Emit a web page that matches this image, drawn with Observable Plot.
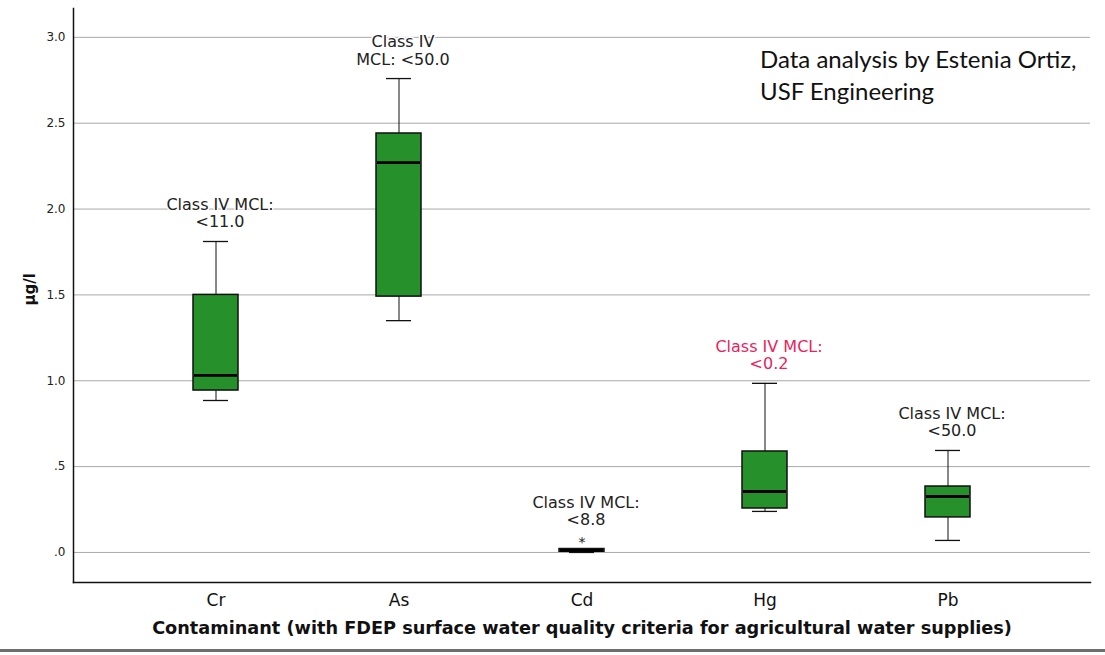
<!DOCTYPE html>
<html>
<head>
<meta charset="utf-8">
<script src="https://cdn.jsdelivr.net/npm/d3@7"></script>
<script src="https://cdn.jsdelivr.net/npm/@observablehq/plot@0.6"></script>
<style>
  html, body { margin: 0; padding: 0; background: #fff; }
  #wrap { position: relative; width: 1105px; border-bottom: 3px solid #6f6f6f; }
  #note { position: absolute; left: 760px; top: 43px; font-family: Lato, "Open Sans", sans-serif;
          font-size: 24px; line-height: 32px; color: #111; }
  svg { display: block; }
</style>
</head>
<body>
<div id="wrap">
  <div id="note">Data analysis by Estenia Ortiz,<br>USF Engineering</div>
</div>
<script>
// Contaminants (x categories)
const contaminants = ["Cr", "As", "Cd", "Hg", "Pb"];
// Box-plot statistics (µg/l)
const whiskerLow  = [0.885, 1.35, 0.000, 0.239, 0.070];
const q1          = [0.943, 1.49, 0.004, 0.256, 0.204];
const median      = [1.031, 2.27, 0.012, 0.355, 0.326];
const q3          = [1.500, 2.44, 0.020, 0.588, 0.384];
const whiskerHigh = [1.811, 2.76, 0.020, 0.985, 0.594];
// Outliers (extreme, drawn as *)
const outlierCat = ["Cd"];
const outlierVal = [0.078];
// FDEP Class IV MCL annotations
const mclLabels = ["Class IV MCL:\n<11.0", "Class IV\nMCL: <50.0", "Class IV MCL:\n<8.8", "Class IV MCL:\n<0.2", "Class IV MCL:\n<50.0"];
const mclColors = ["#222", "#222", "#222", "#e8245c", "#222"];
// Y ticks
const yTicks = [0, 0.5, 1.0, 1.5, 2.0, 2.5, 3.0];

const boxes = contaminants.map((c, i) => ({
  c, lo: whiskerLow[i], q1: q1[i], med: median[i], q3: q3[i], hi: whiskerHigh[i]
}));
const outliers = outlierCat.map((c, i) => ({c, v: outlierVal[i]}));
const labels = contaminants.map((c, i) => {
  const o = outliers.find(d => d.c === c);
  return {c, y: Math.max(whiskerHigh[i], o ? o.v : -Infinity), text: mclLabels[i], color: mclColors[i]};
});

const fmt = d => d < 1 ? "." + String(Math.round(d * 10)) : d.toFixed(1);
const green = "#26902a";
const boxInset = 69, capInset = 79;

const plot = Plot.plot({
  width: 1105,
  height: 649,
  marginLeft: 73,
  marginRight: 15,
  marginTop: 8,
  marginBottom: 67,
  style: {fontFamily: "DejaVu Sans, sans-serif", background: "#fff"},
  x: {type: "band", domain: contaminants, paddingInner: 0, paddingOuter: 0.267, axis: null},
  y: {domain: [-0.175, 3.168], axis: null},
  marks: [
    Plot.gridY(yTicks, {stroke: "#a9a9a9", strokeOpacity: 1, strokeWidth: 1}),
    Plot.axisY(yTicks, {tickSize: 0, tickPadding: 8, tickFormat: fmt, fontSize: 12, fill: "#222", label: null}),
    Plot.axisX({tickSize: 0, tickPadding: 11, fontSize: 17, fill: "#111", label: null}),
    Plot.text(["µg/l"], {frameAnchor: "left", rotate: -90, dx: -43, dy: 10, fontSize: 15, fontWeight: "bold", fill: "#111"}),
    Plot.text(["Contaminant (with FDEP surface water quality criteria for agricultural water supplies)"],
      {frameAnchor: "bottom", dy: 51, fontSize: 17.7, fontWeight: "bold", fill: "#111"}),
    Plot.ruleX(boxes, {x: "c", y1: "lo", y2: "q1", stroke: "#111", strokeWidth: 1}),
    Plot.ruleX(boxes, {x: "c", y1: "q3", y2: "hi", stroke: "#111", strokeWidth: 1}),
    Plot.tickY(boxes, {x: "c", y: "lo", stroke: "#111", strokeWidth: 1.3, inset: capInset}),
    Plot.tickY(boxes, {x: "c", y: "hi", stroke: "#111", strokeWidth: 1.3, inset: capInset}),
    Plot.barY(boxes, {x: "c", y1: "q1", y2: "q3", fill: green, stroke: "#111", strokeWidth: 1.5,
      insetLeft: boxInset, insetRight: boxInset}),
    Plot.tickY(boxes, {x: "c", y: "med", stroke: "#000", strokeWidth: 2.8, inset: boxInset + 1}),
    Plot.text(outliers, {x: "c", y: "v", text: () => "*", fontSize: 14, fill: "#222", dy: 3}),
    Plot.text(labels, {x: "c", y: "y", text: "text", fill: "color", dx: 4, dy: -14, lineAnchor: "bottom",
      fontSize: 16, lineHeight: 1.08, stroke: "#fff", strokeWidth: 3, paintOrder: "stroke"}),
    Plot.frame({anchor: "left", stroke: "#111", strokeWidth: 1.5}),
    Plot.frame({anchor: "bottom", stroke: "#111", strokeWidth: 1.5})
  ]
});
document.getElementById("wrap").prepend(plot);
</script>
</body>
</html>
